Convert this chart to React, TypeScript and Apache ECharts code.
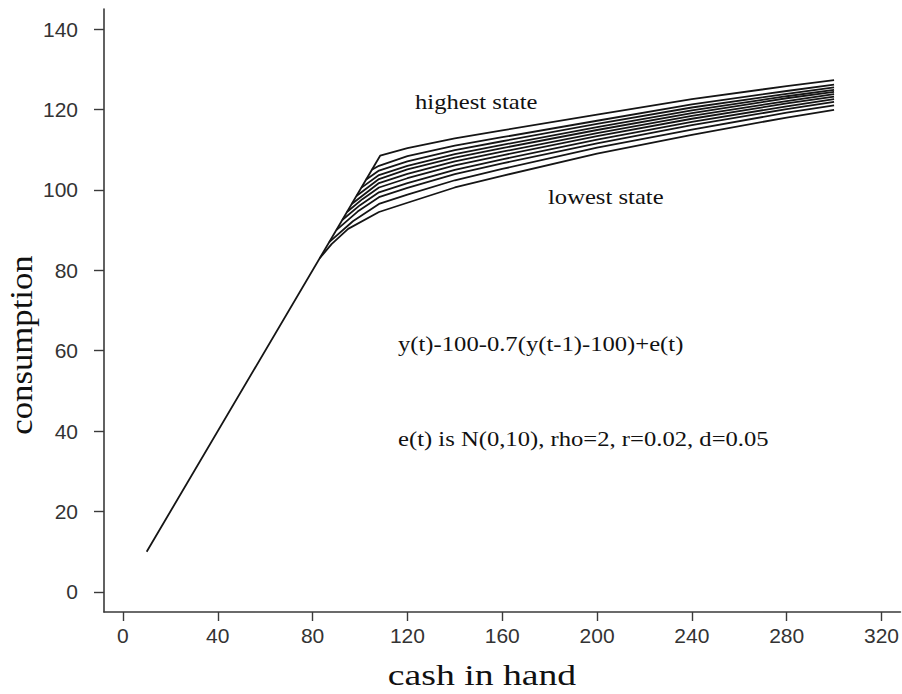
import React, { useEffect, useRef } from "react";
import * as echarts from "echarts";

// tick values
const xTicks = [0, 40, 80, 120, 160, 200, 240, 280, 320];
const yTicks = [0, 20, 40, 60, 80, 100, 120, 140];

// consumption functions, [cash in hand, consumption], highest state first
const state1 = [[10, 10], [108.5, 108.5], [120, 110.4], [140, 112.8], [160, 114.8], [200, 118.7], [240, 122.6], [280, 125.8], [300, 127.3]];
const state2 = [[105, 105], [108, 106.0], [120, 108.4], [140, 111.0], [160, 113.1], [200, 117.2], [240, 121.3], [280, 124.6], [300, 126.2]];
const state3 = [[102.5, 102.5], [108, 104.8], [120, 107.1], [140, 109.9], [160, 112.1], [200, 116.4], [240, 120.5], [280, 123.9], [300, 125.5]];
const state4 = [[100.5, 100.5], [108, 103.7], [120, 106.0], [140, 108.9], [160, 111.2], [200, 115.6], [240, 119.8], [280, 123.3], [300, 124.9]];
const state5 = [[98.5, 98.5], [108, 102.7], [120, 105.1], [140, 108.0], [160, 110.4], [200, 114.9], [240, 119.1], [280, 122.8], [300, 124.4]];
const state6 = [[96.5, 96.5], [108, 101.7], [120, 104.0], [140, 107.1], [160, 109.5], [200, 114.1], [240, 118.4], [280, 122.1], [300, 123.8]];
const state7 = [[94.5, 94.5], [101, 97.7], [108, 100.6], [120, 102.9], [140, 106.1], [160, 108.6], [200, 113.4], [240, 117.7], [280, 121.5], [300, 123.2]];
const state8 = [[92.5, 92.5], [100, 96.2], [108, 99.4], [120, 101.7], [140, 105.0], [160, 107.6], [200, 112.5], [240, 116.9], [280, 120.8], [300, 122.6]];
const state9 = [[90, 90], [99, 94.6], [108, 98.2], [120, 100.5], [140, 103.9], [160, 106.6], [200, 111.6], [240, 116.1], [280, 120.1], [300, 121.9]];
const state10 = [[87, 87], [97, 92.2], [108, 96.5], [120, 98.8], [140, 102.4], [160, 105.2], [200, 110.5], [240, 115.0], [280, 119.2], [300, 121.0]];
const state11 = [[83, 83], [88, 86.5], [95, 90.3], [108, 94.5], [120, 96.8], [140, 100.6], [160, 103.5], [200, 109.0], [240, 113.7], [280, 118.0], [300, 119.9]];

const states = [state1, state2, state3, state4, state5, state6, state7, state8, state9, state10, state11];

const SERIF = "'Liberation Serif', 'Times New Roman', serif";
const SANS = "'Liberation Sans', Arial, sans-serif";
const INK = "#151515";
const AXIS = "#3a3a3a";

export default function App() {
  const ref = useRef<HTMLDivElement>(null);
  useEffect(() => {
    const chart = echarts.init(ref.current!, null, { renderer: "svg" });
    chart.setOption({
      animation: false,
      backgroundColor: "#ffffff",
      grid: { left: 104, top: 9, width: 797, height: 603 },
      xAxis: {
        type: "value",
        min: -8,
        max: 328,
        splitLine: { show: false },
        axisLine: { show: true, onZero: false, lineStyle: { color: AXIS, width: 1.6 } },
        axisTick: { show: true, customValues: xTicks, length: 9, inside: false, lineStyle: { color: AXIS, width: 1.4 } },
        axisLabel: { customValues: xTicks, margin: 13, fontSize: 21, fontFamily: SANS, color: "#333" },
      },
      yAxis: {
        type: "value",
        min: -5,
        max: 145,
        splitLine: { show: false },
        axisLine: { show: true, onZero: false, lineStyle: { color: AXIS, width: 1.6 } },
        axisTick: { show: true, customValues: yTicks, length: 10, inside: false, lineStyle: { color: AXIS, width: 1.4 } },
        axisLabel: { customValues: yTicks, margin: 26, fontSize: 21, fontFamily: SANS, color: "#333" },
      },
      series: states.map((d, i) => ({
        type: "line",
        name: "state " + (i + 1),
        data: d,
        showSymbol: false,
        symbol: "none",
        silent: true,
        lineStyle: { color: INK, width: 1.8 },
        z: 2,
      })),
      graphic: [
        { type: "text", x: 415, y: 101, scaleX: 1.12, style: { text: "highest state", font: `22px ${SERIF}`, fill: "#111", textVerticalAlign: "middle" } },
        { type: "text", x: 548, y: 196, scaleX: 1.12, style: { text: "lowest state", font: `22px ${SERIF}`, fill: "#111", textVerticalAlign: "middle" } },
        { type: "text", x: 398, y: 343, scaleX: 1.12, style: { text: "y(t)-100-0.7(y(t-1)-100)+e(t)", font: `22px ${SERIF}`, fill: "#111", textVerticalAlign: "middle" } },
        { type: "text", x: 398, y: 438, scaleX: 1.12, style: { text: "e(t) is N(0,10), rho=2, r=0.02, d=0.05", font: `22px ${SERIF}`, fill: "#111", textVerticalAlign: "middle" } },
        { type: "text", x: 482, y: 675, scaleX: 1.3, style: { text: "cash in hand", font: `29px ${SERIF}`, fill: "#111", textAlign: "center", textVerticalAlign: "middle" } },
        { type: "text", x: 22, y: 345, rotation: Math.PI / 2, scaleX: 1.12, style: { text: "consumption", font: `31px ${SERIF}`, fill: "#111", textAlign: "center", textVerticalAlign: "middle" } },
      ],
    });
    return () => chart.dispose();
  }, []);
  return (
    <div
      ref={ref}
      style={{ position: "absolute", left: 0, top: 0, width: 902, height: 694, background: "#fff" }}
    />
  );
}
